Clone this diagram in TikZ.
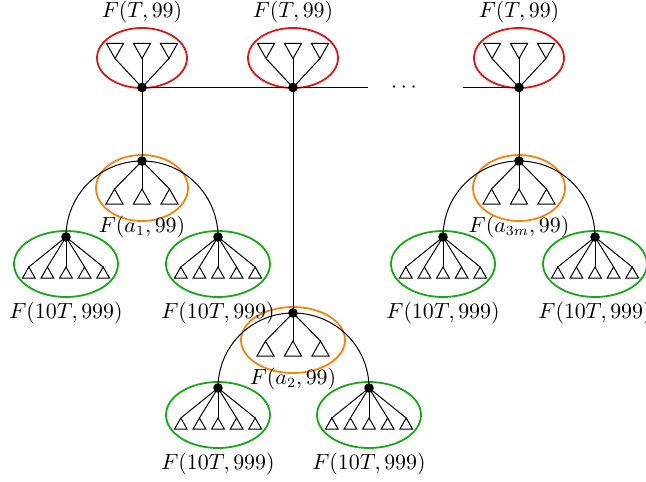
\documentclass[tikz,border=0pt]{standalone}
\usetikzlibrary{shapes.geometric,calc}
\definecolor{tred}{RGB}{228,20,20}
\definecolor{torange}{RGB}{250,130,10}
\definecolor{tgreen}{RGB}{20,170,20}
\newcommand{\redtree}[3]{%
  \node[redell] (#1e) at (#2,58) {};
  \node[dotn] (#1) at (#2,87.5) {};
  \foreach \k in {-1,0,1}{
    \draw[edgeln] ($(#1)+(\k*27-8.5,-44)$) -- ++(17,0) -- ($(#1)+(\k*27,-29)$) -- cycle;
    \draw[edgeln] ($(#1)+(\k*27,-29)$) -- (#1.center);
  }
  \node[lab] (#1l) at ($(#1)+(0,-70)$) {#3};
}
\newcommand{\ortree}[5]{%
  \node[orell,minimum width=#4] (#1e) at ($(#2,#3)+(0,27)$) {};
  \node[dotn] (#1) at (#2,#3) {};
  \foreach \k in {-1,0,1}{
    \draw[edgeln] ($(#1)+(\k*27.5-8.5,43)$) -- ++(17,0) -- ($(#1)+(\k*27.5,28)$) -- cycle;
    \draw[edgeln] ($(#1)+(\k*27.5,28)$) -- (#1.center);
  }
  \node[lab] (#1l) at ($(#1)+(0,71)$) {#5};
}
\newcommand{\grtree}[3]{%
  \node[grell] (#1e) at ($(#2,#3)+(0,27)$) {};
  \node[dotn] (#1) at (#2,#3) {};
  \foreach \k in {-2,-1,0,1,2}{
    \draw[edgeln] ($(#1)+(\k*18.6-6.3,41)$) -- ++(12.6,0) -- ($(#1)+(\k*18.6,30)$) -- cycle;
    \draw[edgeln] ($(#1)+(\k*18.6,30)$) -- (#1.center);
  }
  \node[lab] (#1l) at ($(#1)+(0,81)$) {$F(10T,999)$};
}
\begin{document}
\begin{tikzpicture}[x=0.5pt,y=-0.5pt,
  dotn/.style={circle,fill,inner sep=0pt,minimum size=4.8pt},
  ell/.style={ellipse,line width=0.9pt,inner sep=0pt,minimum height=33pt},
  redell/.style={ell,draw=tred,minimum width=45pt,minimum height=30pt},
  orell/.style={ell,draw=torange},
  grell/.style={ell,draw=tgreen,minimum width=52pt},
  lab/.style={anchor=base,inner sep=0pt,font=\fontsize{10.7pt}{13pt}\selectfont},
  edgeln/.style={line width=0.5pt},
]
\useasboundingbox (0,0) rectangle (646,481);
% top level
\redtree{r1}{142}{$F(T,99)$}
\redtree{r2}{293}{$F(T,99)$}
\redtree{r3}{519}{$F(T,99)$}
\coordinate (h1) at (368,87.5);
\coordinate (h2) at (463,87.5);
\node[lab] (dots) at (404,92) {$\cdots$};
\draw[edgeln] (r1.center) -- (h1);
\draw[edgeln] (h2) -- (r3.center);
% middle level
\ortree{o1}{142}{161}{46pt}{$F(a_1,99)$}
\ortree{o2}{293}{313}{52pt}{$F(a_2,99)$}
\ortree{o3}{519}{161}{46pt}{$F(a_{3m},99)$}
\draw[edgeln] (r1.center) -- (o1.center);
\draw[edgeln] (r2.center) -- (o2.center);
\draw[edgeln] (r3.center) -- (o3.center);
% bottom level
\grtree{g1}{66}{237}
\grtree{g2}{218}{237}
\grtree{g3}{218}{388}
\grtree{g4}{369}{388}
\grtree{g5}{443}{237}
\grtree{g6}{595}{237}
\draw[edgeln] (o1.center) to[out=180,in=90] (g1.center);
\draw[edgeln] (o1.center) to[out=0,in=90] (g2.center);
\draw[edgeln] (o2.center) to[out=180,in=90] (g3.center);
\draw[edgeln] (o2.center) to[out=0,in=90] (g4.center);
\draw[edgeln] (o3.center) to[out=180,in=90] (g5.center);
\draw[edgeln] (o3.center) to[out=0,in=90] (g6.center);
\end{tikzpicture}
\end{document}
